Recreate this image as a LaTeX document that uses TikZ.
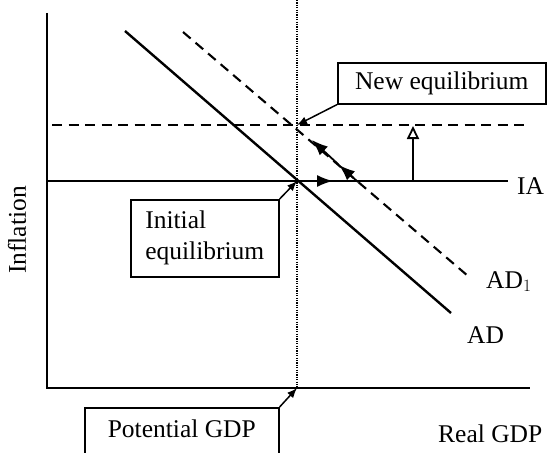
\documentclass[tikz,border=0pt]{standalone}
\usepackage{fontspec}
\setmainfont{Liberation Serif}
\usetikzlibrary{arrows.meta, positioning}

\begin{document}
\begin{tikzpicture}[
        x=1pt, y=-1pt,
        font=\fontsize{25.5}{31}\selectfont,
        axis/.style={line width=2.6pt},
        curve/.style={line width=2.4pt},
        shifted/.style={line width=2.1pt, dash pattern=on 10pt off 6.5pt},
        potline/.style={line width=1.6pt, dash pattern=on 1.2pt off 1.2pt},
        callout/.style={
            draw,
            line width=1.6pt,
            inner sep=6pt,
            align=left
        },
        curvename/.style={inner sep=0pt, anchor=base west},
        pointer/.style={line width=1.5pt, -{Latex[length=10pt, width=8pt]}},
        move/.style={line width=1.8pt, -{Latex[length=16pt, width=12pt]}},
        raisearrow/.style={line width=1.6pt, -{Triangle[open, length=13pt, width=12pt, line width=1.8pt]}}
    ]

    \useasboundingbox (0,0) rectangle (548,452);
    \clip (0,0) rectangle (548,452);

    % Axes
    \draw[axis] (47,13) -- (47,388) -- (530,388);
    \node (inflation) [rotate=90] at (17,230) {Inflation};
    \node (realgdp) [curvename] at (438,442) {Real GDP};

    % Potential output
    \draw[potline] (297,0) -- (297,388);

    % Inflation lines
    \draw[line width=2pt] (47,181) -- (508,181);
    \draw[shifted] (52,125) -- (528,125);
    \node (ia) [curvename] at (517,194) {IA};

    % Demand curves
    \draw[curve] (125,31) -- (451,313);
    \draw[shifted] (183,32) -- (468,276);
    \node (ad) [curvename] at (467,343) {AD};
    \node (adone) [curvename] at (486,288) {AD$_1$};

    % Equilibria
    \coordinate (E0) at (297,181);
    \coordinate (E1) at (297,125);
    \coordinate (Yp) at (297,388);

    \node (neweq) [callout, anchor=north west, minimum width=208pt, minimum height=41pt] at (337,62) {New equilibrium};
    \node (initeq) [callout, anchor=north west, minimum width=148pt, minimum height=77pt] at (130,199) {Initial\\equilibrium};
    \node (potgdp) [callout, anchor=north west, minimum width=194pt, text height=24pt, text depth=30pt] at (84,407) {Potential GDP};

    \draw[pointer] (neweq.south west) -- (E1);
    \draw[pointer] (initeq.north east) -- (E0);
    \draw[pointer] (potgdp.north east) -- (Yp);

    % Adjustment
    \coordinate (mvright) at (333,181);
    \coordinate (adbase) at (358,182);
    \coordinate (admid) at (339,165);
    \coordinate (adtop) at (312,140);
    \coordinate (raisebase) at (413,181);
    \coordinate (raisetop) at (413,126);

    \draw[move] (E0) -- (mvright);
    \draw[move] (adbase) -- (admid);
    \draw[move] (admid) -- (adtop);
    \draw[raisearrow] (raisebase) -- (raisetop);

\end{tikzpicture}
\end{document}
